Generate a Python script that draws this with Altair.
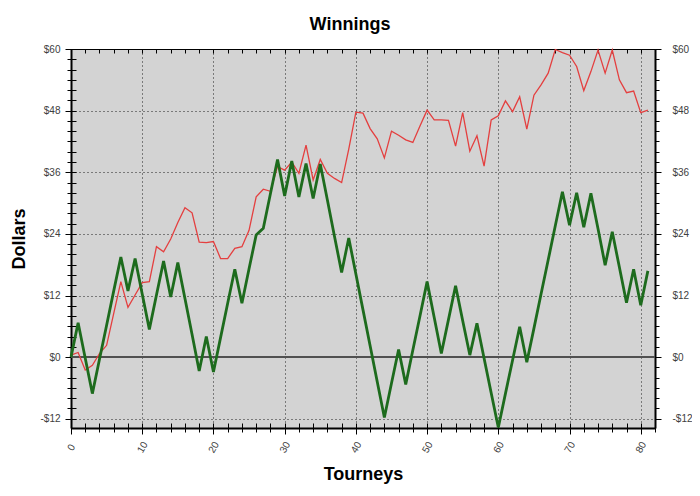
import altair as alt
import pandas as pd

# ---- data ----
tourneys = list(range(82))
red_values = [0.4, 0.9, -2.5, -1.6, 0.7, 2.3, 8.5, 14.7, 9.7, 12.1,
              14.5, 14.7, 21.5, 20.5, 23.0, 26.2, 29.1, 28.1, 22.4, 22.3,
              22.5, 19.2, 19.2, 21.2, 21.5, 24.7, 31.2, 32.7, 32.3, 37.1,
              36.4, 38.0, 35.8, 41.3, 34.5, 38.5, 35.8, 34.8, 34.0, 40.5,
              47.7, 47.5, 44.5, 42.5, 38.8, 44.0, 43.2, 42.3, 41.8, 45.0,
              48.1, 46.2, 46.2, 46.1, 41.1, 47.6, 40.1, 43.1, 37.2, 46.2,
              47.0, 49.9, 47.8, 50.7, 44.4, 51.0, 53.0, 55.3, 59.9, 59.3,
              58.8, 56.6, 51.9, 55.6, 59.8, 55.3, 59.8, 54.0, 51.5, 51.8,
              47.6, 48.1]
green_values = [0.0, 6.7, -0.2, -7.1, -0.4, 6.2, 12.9, 19.5, 12.9, 19.2,
                12.3, 5.4, 12.1, 18.7, 11.7, 18.4, 11.4, 4.4, -2.7, 4.0,
                -2.9, 3.8, 10.5, 17.1, 10.5, 17.2, 23.8, 25.1, 31.8, 38.5,
                31.4, 38.2, 31.2, 37.7, 30.9, 37.6, 30.6, 23.5, 16.5, 23.2,
                16.2, 9.2, 2.2, -4.8, -11.75, -5.1, 1.5, -5.3, 1.4, 8.0,
                14.7, 7.7, 0.7, 7.3, 13.9, 7.1, 0.4, 6.6, -0.2, -7.0,
                -13.7, -7.1, -0.6, 5.9, -1.0, 5.6, 12.3, 18.9, 25.6, 32.2,
                25.7, 32.0, 25.3, 31.9, 25.0, 17.9, 24.4, 17.5, 10.6, 17.1,
                10.1, 16.8]
x_major = [0, 10, 20, 30, 40, 50, 60, 70, 80]
x_minor = list(range(0, 83, 2))
y_major = [-12, 0, 12, 24, 36, 48, 60]
y_minor = list(range(-12, 61, 2))
x_domain = [0, 82]
y_domain = [-13.8, 60]

df = pd.DataFrame({"tourney": tourneys, "red": red_values, "green": green_values})

FONT = "Liberation Sans"
LABEL_COLOR = "#404040"
xs = alt.Scale(domain=x_domain, nice=False, zero=False)
ys = alt.Scale(domain=y_domain, nice=False, zero=False)
dollar = "datum.value < 0 ? '-$' + abs(datum.value) : '$' + datum.value"


def tick_axis(orient, values, size, offset=0):
    return alt.Axis(orient=orient, values=values, labels=False, domain=False,
                    grid=False, ticks=True, tickSize=size, tickColor="black",
                    tickWidth=1, offset=offset, title=None)


main_x = alt.Axis(orient="bottom", values=x_major, title="Tourneys", grid=True,
                  gridColor="black", gridDash=[1, 3], gridOpacity=0.85, gridWidth=1,
                  domain=True, domainColor="black", domainWidth=2,
                  ticks=True, tickColor="black", tickSize=6, tickWidth=1,
                  labelAngle=-60, labelAlign="center", labelBaseline="middle",
                  labelPadding=13, labelFont=FONT, labelFontSize=10,
                  labelColor=LABEL_COLOR, labelFlush=False, labelOverlap=False,
                  titleFont=FONT, titleFontSize=18, titleFontWeight="bold",
                  titleColor="black", titleY=37)

main_y = alt.Axis(orient="left", values=y_major, title="Dollars", grid=True,
                  gridColor="black", gridDash=[1, 3], gridOpacity=0.85, gridWidth=1,
                  domain=True, domainColor="black", domainWidth=2,
                  ticks=True, tickColor="black", tickSize=6, tickWidth=1,
                  labelPadding=5, labelExpr=dollar, labelFont=FONT, labelFontSize=10,
                  labelColor=LABEL_COLOR, labelFlush=False, labelOverlap=False,
                  titleFont=FONT, titleFontSize=18, titleFontWeight="bold",
                  titleColor="black", titleX=-47, titleY=189.5,
                  titleBaseline="alphabetic")

right_y = alt.Axis(orient="right", values=y_major, title=None, grid=False,
                   domain=True, domainColor="black", domainWidth=2,
                   ticks=True, tickColor="black", tickSize=6, tickWidth=1,
                   labelPadding=11, labelExpr=dollar, labelFont=FONT, labelFontSize=10,
                   labelColor=LABEL_COLOR, labelFlush=False, labelOverlap=False)

base = alt.Chart(df)

zero_line = base.mark_rule(color="#505050", strokeWidth=1.5).encode(
    y=alt.Y(datum=0, scale=ys, axis=None)
)

red_line = base.mark_line(color="#e43f3f", strokeWidth=1.3).encode(
    x=alt.X("tourney:Q", scale=xs, axis=main_x),
    y=alt.Y("red:Q", scale=ys, axis=main_y),
)

green_line = base.mark_line(color="#1d6b1d", strokeWidth=2.8).encode(
    x=alt.X("tourney:Q", scale=xs, axis=tick_axis("bottom", x_minor, 5, -5)),
    y=alt.Y("green:Q", scale=ys, axis=tick_axis("left", y_minor, 5, -5)),
)

aux1 = base.mark_line(opacity=0).encode(
    x=alt.X("tourney:Q", scale=xs, axis=tick_axis("bottom", x_minor, 4)),
    y=alt.Y("green:Q", scale=ys, axis=right_y),
)

aux2 = base.mark_line(opacity=0).encode(
    x=alt.X("tourney:Q", scale=xs, axis=tick_axis("top", x_minor, 4, -4)),
    y=alt.Y("green:Q", scale=ys, axis=tick_axis("right", y_minor, 4)),
)

aux3 = base.mark_line(opacity=0).encode(
    x=alt.X("tourney:Q", scale=xs, axis=None),
    y=alt.Y("green:Q", scale=ys, axis=tick_axis("left", y_minor, 4)),
)

chart = (
    alt.layer(zero_line, red_line, green_line, aux1, aux2, aux3)
    .resolve_axis(x="independent", y="independent")
    .properties(
        width=584,
        height=379,
        title=alt.TitleParams(text="Winnings", font=FONT, fontSize=18,
                              fontWeight="bold", color="black", anchor="middle",
                              dx=-13, offset=10),
        autosize=alt.AutoSizeParams(type="none"),
        padding={"left": 63, "top": 41, "right": 37, "bottom": 58},
        background="white",
    )
    .configure_view(fill="#d3d3d3", stroke="black", strokeWidth=1)
)

chart.save("out.html", embed_options={"renderer": "svg", "actions": False})
